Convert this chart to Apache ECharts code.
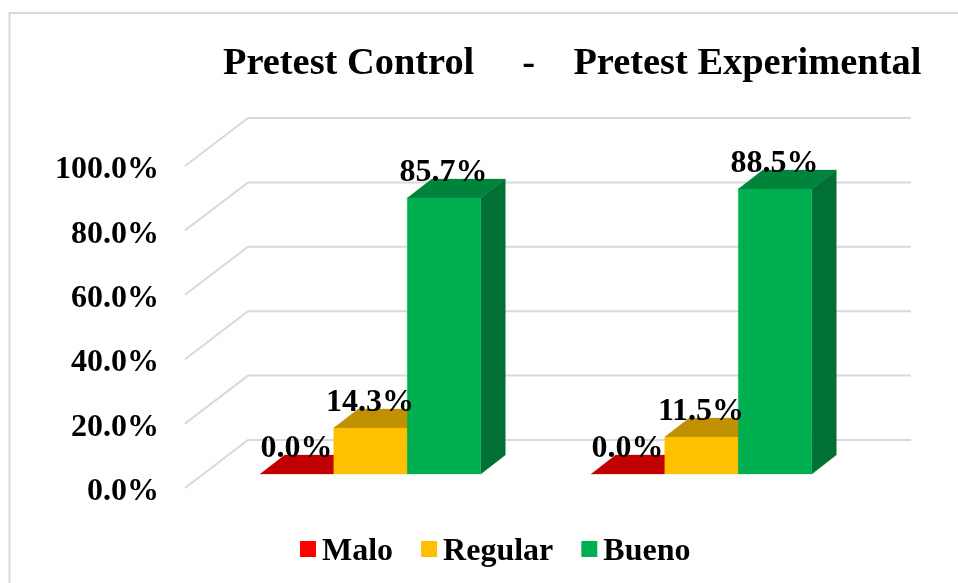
<!DOCTYPE html>
<html>
<head>
<meta charset="utf-8">
<style>html,body{margin:0;padding:0;background:#fff}#c{width:958px;height:583px}</style>
<script src="https://cdn.jsdelivr.net/npm/echarts@6/dist/echarts.min.js"></script>
</head>
<body>
<div id="c"></div>
<script>
const titleText = 'Pretest Control     -    Pretest Experimental';
const categories = ['Pretest Control', 'Pretest Experimental'];
const malo = [0.0, 0.0];
const regular = [14.3, 11.5];
const bueno = [85.7, 88.5];
const yTicks = [0, 20, 40, 60, 80, 100];

const FONT = '"Liberation Serif","Times New Roman",serif';
const DEPTH_X = 24.5, DEPTH_Y = 19;     // bar depth
const LABEL_DROP = 4;                   // tick labels sit this far below the gridline ends
const FLOOR_DROP = 14 + LABEL_DROP;     // bars sit this far above the tick position
const WALL_LEFT = 20;                   // front end of gridlines, left of the plot
const WALL_DX = 63, WALL_DY = 48;       // wall side depth
const WALL_RIGHT = 911;

function barSeries(name, data, idx, front, top, side) {
  return {
    name, type: 'custom', coordinateSystem: 'cartesian2d',
    itemStyle: { color: front },
    encode: { x: 0, y: 1 },
    data: data.map((v, i) => [categories[i], v]),
    renderItem(params, api) {
      const v = api.value(1);
      const base = api.coord([api.value(0), 0]);
      const hi = api.coord([api.value(0), v]);
      const band = api.size([1, 0])[0];
      const w = band / 4.5;
      const x0 = base[0] + (idx - 1.5) * w, x1 = x0 + w;
      const yb = base[1] - FLOOR_DROP, yt = hi[1] - FLOOR_DROP;
      const z = 10 + idx;
      const poly = (pts, fill) => ({
        type: 'polygon', z2: z, shape: { points: pts },
        style: { fill, stroke: fill, lineWidth: 0.3 }
      });
      const children = [];
      children.push(poly([[x0, yt], [x1, yt], [x1 + DEPTH_X, yt - DEPTH_Y], [x0 + DEPTH_X, yt - DEPTH_Y]], top));
      if (v > 0) {
        children.push(poly([[x1, yb], [x1 + DEPTH_X, yb - DEPTH_Y], [x1 + DEPTH_X, yt - DEPTH_Y], [x1, yt]], side));
        children.push(poly([[x0, yb], [x1, yb], [x1, yt], [x0, yt]], front));
      }
      children.push({
        type: 'text', z2: 100,
        style: {
          text: v.toFixed(1) + '%', x: (x0 + x1) / 2 - 0.5, y: yt - 25.5,
          align: 'center', verticalAlign: 'middle',
          font: 'bold 32px ' + FONT, fill: '#000'
        }
      });
      return { type: 'group', children };
    }
  };
}

const wallSeries = {
  type: 'custom', coordinateSystem: 'cartesian2d', silent: true,
  legendHoverLink: false,
  encode: { y: 1 },
  data: yTicks.map(t => [categories[0], t]),
  renderItem(params, api) {
    const p = api.coord([categories[0], api.value(1)]);
    const left = p[0] - api.size([1, 0])[0] / 2 - WALL_LEFT;
    const y = p[1] - LABEL_DROP;
    return {
      type: 'polyline', z2: 1,
      shape: { points: [[left, y], [left + WALL_DX, y - WALL_DY], [WALL_RIGHT, y - WALL_DY]] },
      style: { fill: 'none', stroke: '#D9D9D9', lineWidth: 2 }
    };
  }
};

const legendTextStyle = { fontFamily: FONT, fontWeight: 'bold', fontSize: 32, color: '#000' };

const chart = echarts.init(document.getElementById('c'), null, { renderer: 'canvas' });
chart.setOption({
  animation: false,
  backgroundColor: '#fff',
  title: {
    text: titleText, left: 223, top: 45, padding: 0,
    textStyle: { fontFamily: FONT, fontWeight: 'bold', fontSize: 38.4, color: '#000' }
  },
  legend: {
    left: 300, top: 536, padding: 0, icon: 'rect',
    itemWidth: 16, itemHeight: 16, itemGap: 28,
    data: ['Malo', 'Regular', 'Bueno'],
    formatter: '{a|{name}}',
    textStyle: Object.assign({}, legendTextStyle, {
      rich: { a: Object.assign({}, legendTextStyle, { padding: [6, 0, 0, 1] }) }
    })
  },
  grid: { left: 205, top: 170, width: 662, height: 322, containLabel: false },
  xAxis: {
    type: 'category', data: categories,
    axisLine: { show: false }, axisTick: { show: false }, axisLabel: { show: false }
  },
  yAxis: {
    type: 'value', min: 0, max: 100, interval: 20,
    axisLine: { show: false }, axisTick: { show: false }, splitLine: { show: false },
    axisLabel: {
      margin: 46, formatter: v => v.toFixed(1) + '%',
      fontFamily: FONT, fontWeight: 'bold', fontSize: 32, color: '#000'
    }
  },
  graphic: [
    { type: 'polyline', silent: true, shape: { points: [[9.5, 583], [9.5, 13], [958, 13]] },
      style: { fill: 'none', stroke: '#D9D9D9', lineWidth: 2 } }
  ],
  series: [
    wallSeries,
    barSeries('Malo', malo, 0, '#FF0000', '#C00000', '#A00000'),
    barSeries('Regular', regular, 1, '#FFC000', '#C09000', '#A07800'),
    barSeries('Bueno', bueno, 2, '#00B050', '#00843C', '#007034')
  ]
});
</script>
</body>
</html>
